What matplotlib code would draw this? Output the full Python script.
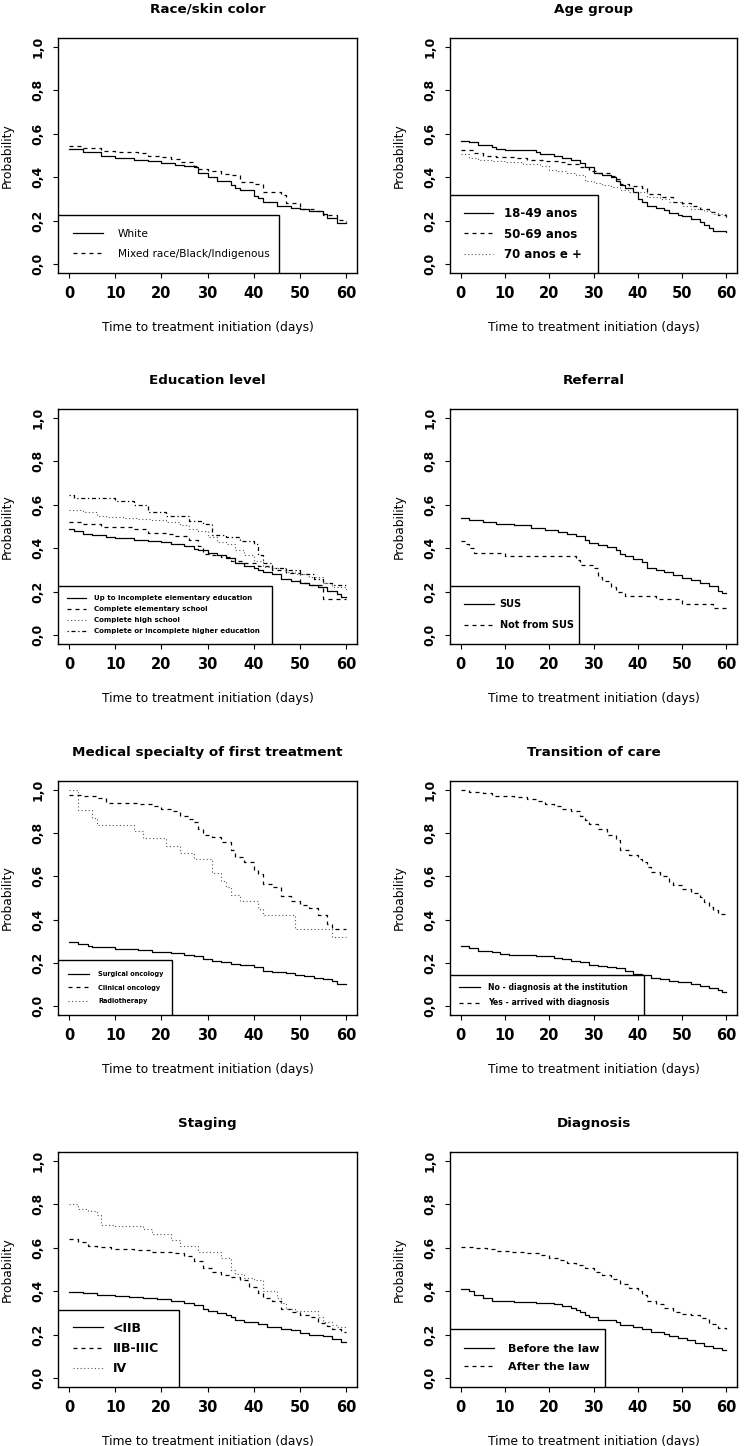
import numpy as np
import matplotlib
matplotlib.use("Agg")
import matplotlib.pyplot as plt
from matplotlib.patches import Rectangle
from matplotlib.lines import Line2D

plt.rc('font', family='DejaVu Sans')

XLABEL = "Time to treatment initiation (days)"
YLABEL = "Probability"
XTICKS = [0, 10, 20, 30, 40, 50, 60]
YTICKS = [0.0, 0.2, 0.4, 0.6, 0.8, 1.0]
YTICK_LABELS = ["0,0", "0,2", "0,4", "0,6", "0,8", "1,0"]

# Race/skin color
race_labels = ["White", "Mixed race/Black/Indigenous"]
race_white_days = [0, 3, 7, 10, 14, 17, 20, 23, 25, 27, 28, 30, 32, 35, 36, 37, 40, 41, 42, 45, 48, 50, 52, 55, 56, 58, 60]
race_white_prob = [0.528, 0.515, 0.50, 0.49, 0.48, 0.475, 0.465, 0.455, 0.45, 0.445, 0.42, 0.40, 0.385, 0.365, 0.35, 0.34, 0.315, 0.305, 0.285, 0.27, 0.26, 0.255, 0.245, 0.23, 0.215, 0.19, 0.19]
race_mixed_days = [0, 3, 7, 10, 15, 17, 20, 22, 24, 27, 28, 30, 33, 35, 37, 40, 42, 46, 47, 50, 53, 55, 58, 60]
race_mixed_prob = [0.545, 0.535, 0.52, 0.515, 0.51, 0.50, 0.495, 0.485, 0.47, 0.45, 0.44, 0.43, 0.415, 0.41, 0.38, 0.37, 0.33, 0.32, 0.28, 0.255, 0.245, 0.225, 0.205, 0.195]

# Age group
age_labels = ["18-49 anos", "50-69 anos", "70 anos e +"]
age_young_days = [0, 2, 4, 7, 8, 10, 17, 18, 21, 23, 25, 27, 28, 30, 32, 34, 35, 36, 37, 39, 40, 41, 42, 44, 46, 47, 49, 50, 52, 54, 55, 56, 57, 60]
age_young_prob = [0.565, 0.56, 0.55, 0.54, 0.53, 0.525, 0.515, 0.505, 0.50, 0.49, 0.48, 0.465, 0.445, 0.42, 0.41, 0.40, 0.385, 0.365, 0.35, 0.33, 0.30, 0.285, 0.27, 0.26, 0.25, 0.235, 0.225, 0.22, 0.21, 0.195, 0.18, 0.165, 0.155, 0.15]
age_mid_days = [0, 3, 5, 8, 12, 15, 19, 22, 24, 27, 29, 31, 34, 35, 36, 38, 41, 42, 45, 48, 50, 52, 54, 56, 58, 60]
age_mid_prob = [0.525, 0.51, 0.50, 0.495, 0.49, 0.48, 0.475, 0.47, 0.46, 0.445, 0.43, 0.42, 0.405, 0.39, 0.37, 0.36, 0.35, 0.325, 0.31, 0.285, 0.28, 0.27, 0.255, 0.24, 0.225, 0.21]
age_old_days = [0, 2, 4, 7, 10, 14, 18, 20, 22, 24, 26, 28, 30, 32, 34, 36, 38, 42, 45, 47, 50, 52, 55, 57, 60]
age_old_prob = [0.505, 0.49, 0.48, 0.475, 0.47, 0.46, 0.45, 0.435, 0.43, 0.42, 0.41, 0.385, 0.375, 0.365, 0.355, 0.34, 0.33, 0.31, 0.30, 0.285, 0.27, 0.255, 0.245, 0.23, 0.215]

# Education level
edu_labels = ["Up to incomplete elementary education", "Complete elementary school",
              "Complete high school", "Complete or incomplete higher education"]
edu_low_days = [0, 1, 3, 5, 8, 10, 14, 17, 20, 22, 25, 27, 28, 30, 32, 34, 36, 38, 40, 41, 42, 44, 46, 48, 50, 52, 54, 56, 58, 59, 60]
edu_low_prob = [0.49, 0.48, 0.465, 0.46, 0.45, 0.445, 0.44, 0.435, 0.43, 0.42, 0.41, 0.395, 0.39, 0.38, 0.37, 0.355, 0.33, 0.32, 0.31, 0.30, 0.29, 0.28, 0.26, 0.25, 0.24, 0.23, 0.22, 0.205, 0.19, 0.175, 0.175]
edu_elem_days = [0, 3, 7, 14, 17, 21, 23, 26, 28, 29, 31, 33, 35, 38, 41, 44, 47, 50, 52, 55, 58, 60]
edu_elem_prob = [0.52, 0.51, 0.50, 0.49, 0.47, 0.465, 0.455, 0.44, 0.41, 0.375, 0.37, 0.36, 0.34, 0.33, 0.32, 0.30, 0.285, 0.24, 0.23, 0.165, 0.165, 0.165]
edu_high_days = [0, 3, 6, 8, 12, 15, 18, 21, 24, 26, 28, 30, 32, 34, 36, 38, 40, 42, 44, 47, 49, 52, 55, 57, 60]
edu_high_prob = [0.575, 0.565, 0.55, 0.545, 0.54, 0.535, 0.53, 0.52, 0.505, 0.49, 0.48, 0.45, 0.43, 0.42, 0.39, 0.37, 0.34, 0.315, 0.31, 0.29, 0.28, 0.27, 0.24, 0.22, 0.21]
edu_higher_days = [0, 1, 10, 14, 17, 21, 26, 29, 31, 34, 37, 40, 41, 42, 44, 47, 50, 53, 55, 57, 60]
edu_higher_prob = [0.645, 0.63, 0.615, 0.60, 0.565, 0.55, 0.525, 0.51, 0.46, 0.45, 0.435, 0.42, 0.37, 0.33, 0.31, 0.30, 0.28, 0.26, 0.24, 0.23, 0.23]

# Referral
ref_labels = ["SUS", "Not from SUS"]
ref_sus_days = [0, 2, 5, 8, 12, 16, 19, 22, 24, 26, 28, 29, 31, 33, 35, 36, 37, 39, 41, 42, 44, 46, 48, 50, 52, 54, 56, 58, 59, 60]
ref_sus_prob = [0.54, 0.53, 0.52, 0.51, 0.505, 0.495, 0.485, 0.475, 0.465, 0.455, 0.44, 0.425, 0.415, 0.405, 0.39, 0.375, 0.365, 0.35, 0.335, 0.31, 0.30, 0.29, 0.275, 0.265, 0.255, 0.24, 0.225, 0.205, 0.195, 0.195]
ref_not_days = [0, 1, 2, 3, 10, 26, 27, 30, 31, 32, 34, 35, 37, 44, 50, 57, 60]
ref_not_prob = [0.435, 0.42, 0.40, 0.38, 0.365, 0.345, 0.325, 0.31, 0.27, 0.25, 0.22, 0.20, 0.18, 0.165, 0.145, 0.125, 0.125]

# Medical specialty of first treatment
spec_labels = ["Surgical oncology", "Clinical oncology", "Radiotherapy"]
spec_surg_days = [0, 2, 4, 5, 10, 15, 18, 22, 25, 27, 29, 31, 33, 35, 37, 40, 42, 44, 47, 49, 51, 53, 55, 57, 58, 60]
spec_surg_prob = [0.295, 0.29, 0.28, 0.275, 0.265, 0.258, 0.25, 0.245, 0.235, 0.23, 0.22, 0.21, 0.205, 0.195, 0.19, 0.18, 0.165, 0.16, 0.155, 0.145, 0.14, 0.13, 0.125, 0.115, 0.105, 0.105]
spec_clin_days = [0, 3, 6, 8, 15, 18, 20, 22, 24, 26, 27, 28, 29, 31, 33, 35, 36, 38, 40, 41, 42, 44, 46, 48, 50, 52, 54, 56, 57, 60]
spec_clin_prob = [0.975, 0.97, 0.96, 0.94, 0.935, 0.925, 0.91, 0.90, 0.88, 0.865, 0.85, 0.82, 0.79, 0.78, 0.76, 0.72, 0.69, 0.665, 0.63, 0.61, 0.565, 0.55, 0.51, 0.485, 0.47, 0.455, 0.42, 0.38, 0.355, 0.355]
spec_radio_days = [0, 2, 5, 6, 14, 16, 21, 24, 27, 31, 33, 34, 35, 37, 41, 42, 49, 57, 60]
spec_radio_prob = [1.0, 0.905, 0.87, 0.835, 0.81, 0.775, 0.74, 0.71, 0.68, 0.615, 0.58, 0.55, 0.515, 0.485, 0.45, 0.42, 0.355, 0.32, 0.32]

# Transition of care
trans_labels = ["No - diagnosis at the institution", "Yes - arrived with diagnosis"]
trans_no_days = [0, 2, 4, 7, 9, 11, 17, 21, 23, 25, 27, 29, 31, 33, 35, 37, 39, 41, 43, 45, 47, 49, 52, 54, 56, 58, 59, 60]
trans_no_prob = [0.28, 0.27, 0.255, 0.25, 0.24, 0.235, 0.23, 0.225, 0.22, 0.21, 0.205, 0.19, 0.185, 0.18, 0.175, 0.165, 0.15, 0.145, 0.13, 0.125, 0.115, 0.11, 0.105, 0.095, 0.085, 0.075, 0.068, 0.068]
trans_yes_days = [0, 2, 5, 7, 12, 15, 17, 19, 21, 23, 25, 27, 28, 29, 31, 33, 35, 36, 38, 40, 41, 42, 43, 45, 47, 48, 50, 52, 54, 55, 56, 57, 58, 60]
trans_yes_prob = [1.0, 0.99, 0.985, 0.97, 0.965, 0.955, 0.95, 0.935, 0.925, 0.91, 0.90, 0.88, 0.86, 0.84, 0.82, 0.79, 0.77, 0.72, 0.70, 0.68, 0.665, 0.645, 0.62, 0.60, 0.575, 0.56, 0.54, 0.525, 0.505, 0.48, 0.46, 0.445, 0.425, 0.42]

# Staging
stage_labels = ["<IIB", "IIB-IIIC", "IV"]
stage_early_days = [0, 3, 6, 10, 13, 16, 19, 22, 25, 27, 29, 30, 32, 34, 35, 36, 38, 41, 43, 46, 48, 50, 52, 55, 57, 59, 60]
stage_early_prob = [0.395, 0.39, 0.385, 0.38, 0.375, 0.37, 0.365, 0.355, 0.345, 0.335, 0.32, 0.31, 0.30, 0.29, 0.28, 0.27, 0.26, 0.25, 0.235, 0.228, 0.22, 0.21, 0.20, 0.195, 0.18, 0.165, 0.165]
stage_mid_days = [0, 2, 4, 6, 9, 14, 18, 23, 25, 27, 29, 31, 33, 35, 37, 39, 41, 42, 44, 46, 48, 50, 52, 54, 56, 57, 59, 60]
stage_mid_prob = [0.64, 0.625, 0.61, 0.605, 0.595, 0.59, 0.58, 0.575, 0.56, 0.54, 0.505, 0.49, 0.475, 0.465, 0.45, 0.42, 0.39, 0.37, 0.355, 0.32, 0.305, 0.29, 0.28, 0.255, 0.24, 0.225, 0.215, 0.215]
stage_iv_days = [0, 2, 4, 6, 7, 10, 16, 18, 22, 24, 28, 33, 35, 36, 38, 40, 42, 45, 46, 47, 49, 54, 55, 57, 58, 60]
stage_iv_prob = [0.80, 0.78, 0.77, 0.75, 0.705, 0.70, 0.685, 0.665, 0.635, 0.61, 0.58, 0.555, 0.50, 0.48, 0.46, 0.45, 0.40, 0.37, 0.345, 0.32, 0.31, 0.28, 0.26, 0.245, 0.235, 0.235]

# Diagnosis
diag_labels = ["Before the law", "After the law"]
diag_before_days = [0, 2, 3, 5, 7, 12, 17, 21, 23, 25, 26, 27, 28, 29, 31, 35, 36, 39, 41, 43, 46, 47, 49, 51, 53, 55, 57, 59, 60]
diag_before_prob = [0.41, 0.40, 0.385, 0.37, 0.355, 0.35, 0.345, 0.34, 0.33, 0.325, 0.315, 0.305, 0.29, 0.28, 0.27, 0.26, 0.245, 0.235, 0.225, 0.215, 0.205, 0.195, 0.185, 0.175, 0.16, 0.15, 0.14, 0.13, 0.13]
diag_after_days = [0, 3, 6, 8, 11, 15, 18, 20, 22, 24, 26, 28, 30, 32, 34, 36, 38, 40, 41, 42, 44, 46, 48, 50, 52, 54, 56, 58, 60]
diag_after_prob = [0.605, 0.60, 0.595, 0.585, 0.58, 0.575, 0.565, 0.555, 0.545, 0.53, 0.52, 0.505, 0.49, 0.475, 0.455, 0.435, 0.415, 0.40, 0.385, 0.355, 0.34, 0.325, 0.305, 0.295, 0.29, 0.275, 0.25, 0.23, 0.225]

# line styles mimicking R lty 1..4
SOLID = dict(color="black", linestyle="-", linewidth=0.9)
DASHED = dict(color="black", linestyle=(0, (3.2, 3.2)), linewidth=0.9)
DOTTED = dict(color="#555555", linestyle=(0, (1, 2.2)), linewidth=0.8)
DASHDOT = dict(color="black", linestyle=(0, (1, 2.2, 3.2, 2.2)), linewidth=0.9)

# panel: title, curves, legend box (right, top in data units), legend font
PANELS = [
    dict(title="Race/skin color", labels=race_labels,
         curves=[(race_white_days, race_white_prob, SOLID), (race_mixed_days, race_mixed_prob, DASHED)],
         box=(45.4, 0.228), fs=7.6, weight="normal", spacing=0.94, pad=1.4, hl=2.85, tp=1.4),
    dict(title="Age group", labels=age_labels,
         curves=[(age_young_days, age_young_prob, SOLID), (age_mid_days, age_mid_prob, DASHED),
                 (age_old_days, age_old_prob, DOTTED)],
         box=(31.0, 0.318), fs=8.5, weight="bold", spacing=0.66, pad=1.15, hl=2.5, tp=0.9),
    dict(title="Education level", labels=edu_labels,
         curves=[(edu_low_days, edu_low_prob, SOLID), (edu_elem_days, edu_elem_prob, DASHED),
                 (edu_high_days, edu_high_prob, DOTTED), (edu_higher_days, edu_higher_prob, DASHDOT)],
         box=(43.9, 0.228), fs=5.0, weight="bold", spacing=0.71, pad=1.3, hl=2.75, tp=1.15),
    dict(title="Referral", labels=ref_labels,
         curves=[(ref_sus_days, ref_sus_prob, SOLID), (ref_not_days, ref_not_prob, DASHED)],
         box=(26.7, 0.228), fs=7.0, weight="bold", spacing=1.11, pad=1.44, hl=3.05, tp=0.62),
    dict(title="Medical specialty of first treatment", labels=spec_labels,
         curves=[(spec_surg_days, spec_surg_prob, SOLID), (spec_clin_days, spec_clin_prob, DASHED),
                 (spec_radio_days, spec_radio_prob, DOTTED)],
         box=(22.3, 0.212), fs=4.7, weight="bold", spacing=1.12, pad=1.6, hl=3.1, tp=1.45),
    dict(title="Transition of care", labels=trans_labels,
         curves=[(trans_no_days, trans_no_prob, SOLID), (trans_yes_days, trans_yes_prob, DASHED)],
         box=(41.5, 0.143), fs=5.6, weight="bold", spacing=0.81, pad=1.2, hl=2.6, tp=1.1),
    dict(title="Staging", labels=stage_labels,
         curves=[(stage_early_days, stage_early_prob, SOLID), (stage_mid_days, stage_mid_prob, DASHED),
                 (stage_iv_days, stage_iv_prob, DOTTED)],
         box=(23.8, 0.315), fs=9.0, weight="bold", spacing=0.57, pad=1.2, hl=2.4, tp=0.8),
    dict(title="Diagnosis", labels=diag_labels,
         curves=[(diag_before_days, diag_before_prob, SOLID), (diag_after_days, diag_after_prob, DASHED)],
         box=(32.6, 0.228), fs=8.0, weight="bold", spacing=0.75, pad=1.25, hl=2.7, tp=1.3),
]

W, H = 749, 1446
XLIM = (-2.4, 62.4)
YLIM = (-0.04, 1.04)

# pixel layout of the axes (left, right) per column and (top, bottom) per row
COLS = [(58, 357), (450, 737)]
ROWS = [(38, 273), (409, 644), (781, 1015), (1152, 1387)]

fig = plt.figure(figsize=(W / 100, H / 100), dpi=100)

for i, p in enumerate(PANELS):
    (l, r), (t, b) = COLS[i % 2], ROWS[i // 2]
    ax = fig.add_axes([l / W, 1 - b / H, (r - l) / W, (b - t) / H])
    for days, prob, style in p["curves"]:
        ax.step(days, prob, where="post", zorder=2, **style)
    ax.set_xlim(XLIM)
    ax.set_ylim(YLIM)
    ax.set_xticks(XTICKS)
    ax.set_xticklabels([str(x) for x in XTICKS], fontweight="bold", fontsize=10.5)
    ax.set_yticks(YTICKS)
    ax.set_yticklabels(YTICK_LABELS, fontweight="bold", fontsize=9, rotation=90, va="center")
    ax.tick_params(axis="x", direction="out", length=3.6, width=0.8, pad=6)
    ax.tick_params(axis="y", direction="out", length=3.6, width=0.8, pad=6)
    for sp in ax.spines.values():
        sp.set_linewidth(1.0)
    ax.set_title(p["title"], fontweight="bold", fontsize=9.7, pad=18)
    ax.set_xlabel(XLABEL, fontsize=8.8)
    ax.xaxis.set_label_coords(0.5, -48 / (b - t))
    ax.xaxis.label.set_va("top")
    ax.set_ylabel(YLABEL, fontsize=8.8)
    ax.yaxis.set_label_coords(-44 / (r - l), 0.5)

    # legend box in the lower-left corner, drawn over the curves like R does
    bx, by = p["box"]
    rect = Rectangle((XLIM[0], YLIM[0]), bx - XLIM[0], by - YLIM[0], facecolor="white",
                     edgecolor="black", linewidth=1.0, zorder=3)
    ax.add_patch(rect)
    handles = [Line2D([0], [0], **style) for _, _, style in p["curves"]]
    hfrac = (by - YLIM[0]) / (YLIM[1] - YLIM[0])
    wfrac = (bx - XLIM[0]) / (XLIM[1] - XLIM[0])
    leg = ax.legend(handles, p["labels"], loc="center left", bbox_to_anchor=(0, 0, wfrac, hfrac),
                    frameon=False, borderaxespad=0, borderpad=p["pad"], handlelength=p["hl"],
                    handletextpad=p["tp"], labelspacing=p["spacing"],
                    prop=dict(size=p["fs"], weight=p["weight"]))
    leg.set_zorder(5)

fig.savefig("out.png", dpi=100)
